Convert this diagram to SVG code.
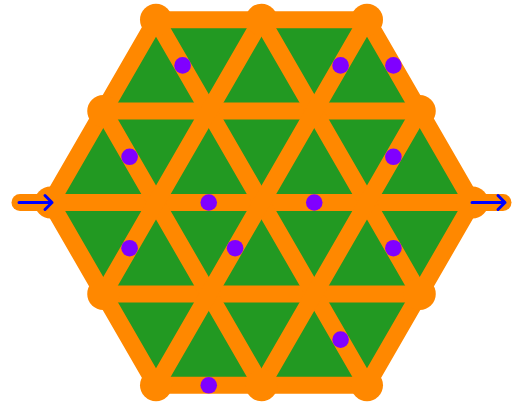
<svg xmlns="http://www.w3.org/2000/svg" width="520" height="405" viewBox="0 0 520 405">
<style>
.edge{stroke:#FF8800;stroke-width:17;stroke-linecap:round;fill:none}
.v{fill:#FF8800}
.dot{fill:#8000FF}
.arr{stroke:#0000FF;stroke-width:3;fill:none;stroke-linecap:round;stroke-linejoin:round}
</style>
<rect width="520" height="405" fill="#FFFFFF"/>
<polygon id="face" points="156,19.7 367,19.7 472.5,202.5 367,385.3 156,385.3 50.5,202.5" fill="#229922"/>
<g id="connectors">
<line class="edge" x1="20" y1="202.5" x2="50.5" y2="202.5"/>
<line class="edge" x1="472.5" y1="202.5" x2="503" y2="202.5"/>
<line class="edge" x1="156" y1="19.7" x2="367" y2="19.7"/>
<line class="edge" x1="103.25" y1="111.1" x2="419.75" y2="111.1"/>
<line class="edge" x1="50.5" y1="202.5" x2="472.5" y2="202.5"/>
<line class="edge" x1="103.25" y1="293.9" x2="419.75" y2="293.9"/>
<line class="edge" x1="156" y1="385.3" x2="367" y2="385.3"/>
<line class="edge" x1="50.5" y1="202.5" x2="156" y2="385.3"/>
<line class="edge" x1="103.25" y1="111.1" x2="261.5" y2="385.3"/>
<line class="edge" x1="156" y1="19.7" x2="367" y2="385.3"/>
<line class="edge" x1="261.5" y1="19.7" x2="419.75" y2="293.9"/>
<line class="edge" x1="367" y1="19.7" x2="472.5" y2="202.5"/>
<line class="edge" x1="472.5" y1="202.5" x2="367" y2="385.3"/>
<line class="edge" x1="419.75" y1="111.1" x2="261.5" y2="385.3"/>
<line class="edge" x1="367" y1="19.7" x2="156" y2="385.3"/>
<line class="edge" x1="261.5" y1="19.7" x2="103.25" y2="293.9"/>
<line class="edge" x1="156" y1="19.7" x2="50.5" y2="202.5"/>
</g>
<g id="v1"><circle class="v" cx="156" cy="19.7" r="16"/></g>
<g id="v2"><circle class="v" cx="261.5" cy="19.7" r="16"/></g>
<g id="v3"><circle class="v" cx="367" cy="19.7" r="16"/></g>
<g id="v4"><circle class="v" cx="103.25" cy="111.1" r="16"/></g>
<g id="v5"><circle class="v" cx="419.75" cy="111.1" r="16"/></g>
<g id="v6"><circle class="v" cx="50.5" cy="202.5" r="16"/></g>
<g id="v7"><circle class="v" cx="472.5" cy="202.5" r="16"/></g>
<g id="v8"><circle class="v" cx="103.25" cy="293.9" r="16"/></g>
<g id="v9"><circle class="v" cx="419.75" cy="293.9" r="16"/></g>
<g id="v10"><circle class="v" cx="156" cy="385.3" r="16"/></g>
<g id="v11"><circle class="v" cx="261.5" cy="385.3" r="16"/></g>
<g id="v12"><circle class="v" cx="367" cy="385.3" r="16"/></g>
<g id="dots">
<circle class="dot" cx="182.6" cy="65.4" r="8.3"/>
<circle class="dot" cx="340.6" cy="65.4" r="8.3"/>
<circle class="dot" cx="393.4" cy="65.4" r="8.3"/>
<circle class="dot" cx="129.6" cy="156.8" r="8.3"/>
<circle class="dot" cx="393.4" cy="156.8" r="8.3"/>
<circle class="dot" cx="208.75" cy="202.5" r="8.3"/>
<circle class="dot" cx="314.25" cy="202.5" r="8.3"/>
<circle class="dot" cx="129.6" cy="248.2" r="8.3"/>
<circle class="dot" cx="235.1" cy="248.2" r="8.3"/>
<circle class="dot" cx="393.4" cy="248.2" r="8.3"/>
<circle class="dot" cx="340.6" cy="339.6" r="8.3"/>
<circle class="dot" cx="208.75" cy="385.3" r="8.3"/>
</g>
<g id="arrows">
<path class="arr" d="M19,202.5 H52 M45,195.5 L52,202.5 L45,209.5"/>
<path class="arr" d="M472,202.5 H505 M498,195.5 L505,202.5 L498,209.5"/>
</g>
</svg>
